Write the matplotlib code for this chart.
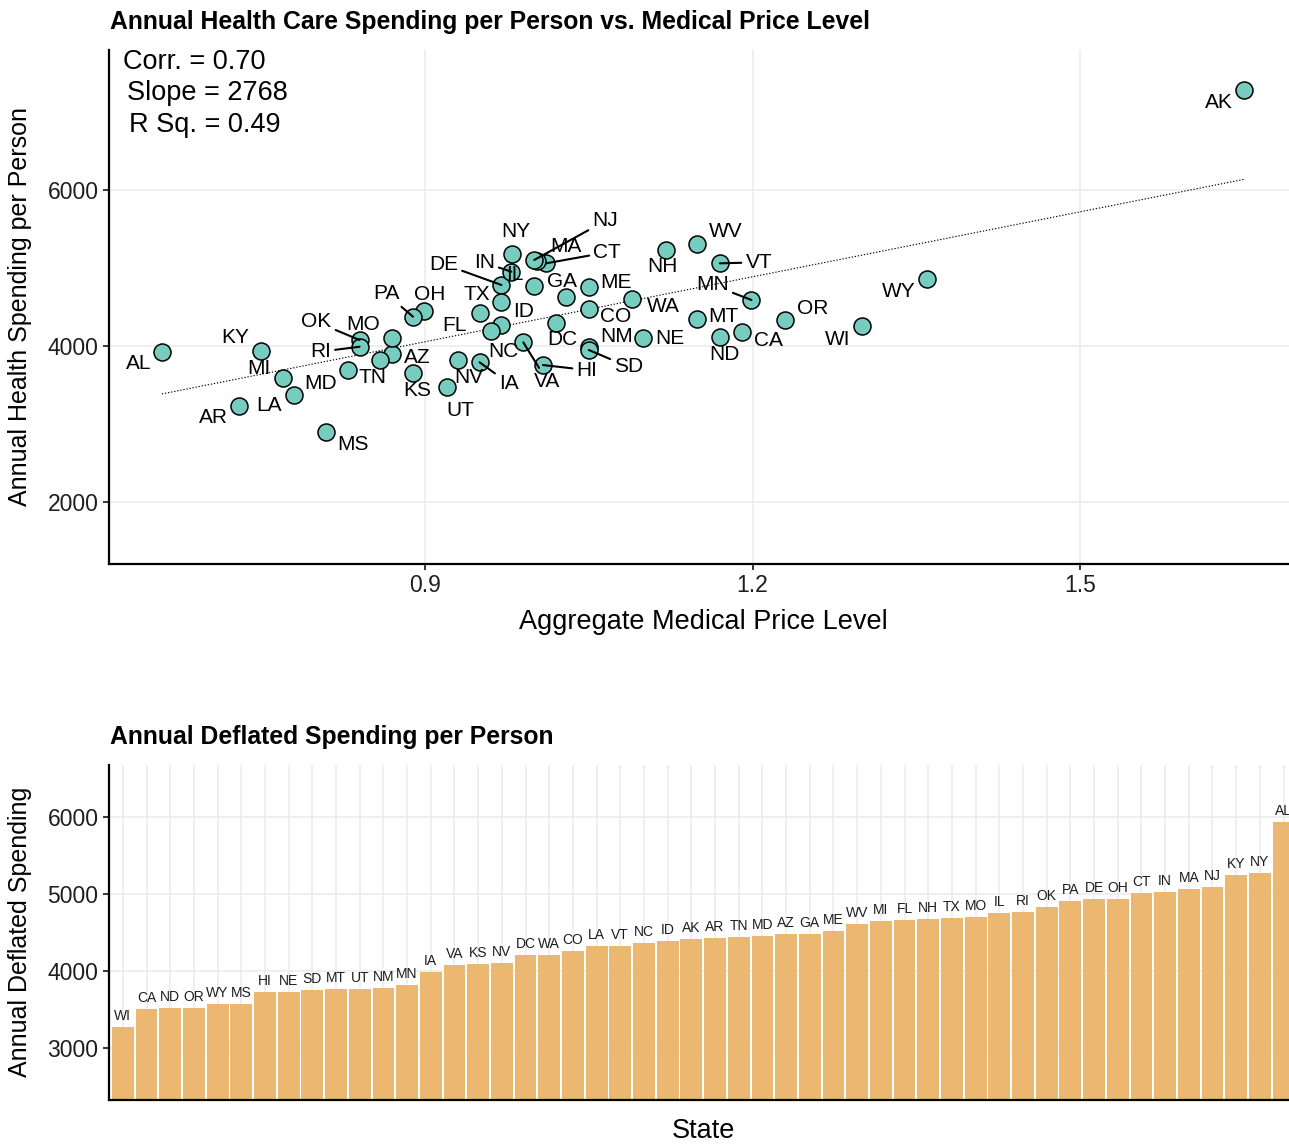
import matplotlib
matplotlib.use('Agg')
import matplotlib.pyplot as plt
import numpy as np

plt.rcParams['font.family'] = ['Liberation Sans', 'DejaVu Sans']

# ---------------- data ----------------
states = ['AL', 'AK', 'AZ', 'AR', 'CA', 'CO', 'CT', 'DE', 'DC', 'FL',
          'GA', 'HI', 'ID', 'IL', 'IN', 'IA', 'KS', 'KY', 'LA', 'ME',
          'MD', 'MA', 'MI', 'MN', 'MS', 'MO', 'MT', 'NE', 'NV', 'NH',
          'NJ', 'NM', 'NY', 'NC', 'ND', 'OH', 'OK', 'OR', 'PA', 'RI',
          'SD', 'TN', 'TX', 'UT', 'VT', 'VA', 'WA', 'WV', 'WI', 'WY']
price_level = [0.659, 1.650, 0.870, 0.730, 1.190, 1.050, 1.011, 0.970, 1.020, 0.950,
               1.029, 1.008, 0.970, 1.000, 0.979, 0.950, 0.889, 0.750, 0.780, 1.050,
               0.829, 1.003, 0.770, 1.199, 0.809, 0.870, 1.149, 1.100, 0.930, 1.121,
               1.000, 1.050, 0.980, 0.960, 1.170, 0.899, 0.840, 1.230, 0.889, 0.840,
               1.050, 0.859, 0.970, 0.920, 1.170, 0.990, 1.090, 1.149, 1.300, 1.360]
spending = [3923, 7282, 3897, 3231, 4175, 4470, 5060, 4782, 4291, 4427,
            4624, 3756, 4269, 4765, 4953, 3791, 3650, 3936, 3372, 4752,
            3692, 5085, 3590, 4590, 2897, 4103, 4342, 4099, 3821, 5231,
            5103, 3991, 5179, 4196, 4120, 4449, 4077, 4333, 4376, 3991,
            3949, 3821, 4568, 3471, 5060, 4047, 4599, 5304, 4256, 4859]

bar_states = ['WI', 'CA', 'ND', 'OR', 'WY', 'MS', 'HI', 'NE', 'SD', 'MT',
              'UT', 'NM', 'MN', 'IA', 'VA', 'KS', 'NV', 'DC', 'WA', 'CO',
              'LA', 'VT', 'NC', 'ID', 'AK', 'AR', 'TN', 'MD', 'AZ', 'GA',
              'ME', 'WV', 'MI', 'FL', 'NH', 'TX', 'MO', 'IL', 'RI', 'OK',
              'PA', 'DE', 'OH', 'CT', 'IN', 'MA', 'NJ', 'KY', 'NY', 'AL']
deflated = [3277, 3510, 3524, 3524, 3571, 3571, 3731, 3731, 3757, 3770,
            3770, 3783, 3822, 3991, 4082, 4095, 4108, 4212, 4212, 4264,
            4329, 4329, 4368, 4394, 4420, 4433, 4446, 4459, 4485, 4485,
            4524, 4615, 4653, 4666, 4679, 4692, 4705, 4757, 4770, 4835,
            4913, 4939, 4939, 5017, 5030, 5069, 5095, 5251, 5277, 5939]

stats_lines = ['Corr. = 0.70', 'Slope = 2768', 'R Sq. = 0.49']

# label offsets (pixels, right / up) and whether a leader segment is drawn
label_offsets = {
    'AL': (-23, -11, 0), 'KY': (-26, 13, 0), 'MI': (-24, 9, 0), 'LA': (-25, -11, 0),
    'AR': (-26, -12, 0), 'MS': (27, -12, 0), 'MD': (-27, -13, 0), 'TN': (-8, -18, 0),
    'AZ': (25, -3, 0), 'MO': (-29, 13, 0), 'OK': (-43, 18, 1), 'RI': (-39, -5, 1),
    'PA': (-27, 23, 1), 'OH': (6, 16, 0), 'KS': (4, -17, 0), 'NV': (11, -18, 0),
    'UT': (13, -23, 0), 'IA': (29, -21, 1), 'FL': (-25, -13, 0), 'NC': (13, -21, 0),
    'ID': (22, 14, 0), 'TX': (-25, 7, 0), 'DE': (-58, 21, 1), 'IN': (-27, 9, 1),
    'IL': (-19, 12, 0), 'NY': (3, 23, 0), 'NJ': (71, 39, 1), 'MA': (28, 15, 0),
    'CT': (61, 11, 1), 'GA': (-4, 16, 0), 'ME': (27, 5, 0), 'CO': (27, -7, 0),
    'DC': (6, -16, 0), 'NM': (28, 10, 0), 'SD': (40, -17, 1), 'HI': (44, -5, 1),
    'VA': (24, -39, 1), 'NE': (26, 0, 0), 'WA': (31, -7, 0), 'NH': (-4, -17, 0),
    'WV': (29, 13, 0), 'VT': (39, 1, 1), 'MN': (-39, 15, 1), 'MT': (27, 3, 0),
    'ND': (5, -18, 0), 'CA': (27, -8, 0), 'OR': (27, 12, 0), 'WI': (-24, -13, 0),
    'WY': (-28, -13, 0), 'AK': (-25, -12, 0),
}

# ---------------- figure ----------------
W, H = 1289, 1145
fig = plt.figure(figsize=(W / 100, H / 100), dpi=100)


def fx(px):
    return px / W


def fy(py):
    return 1 - py / H


point_color = '#77CCC0'
bar_color = '#EBB771'
grid_color = '#EBEBEB'
tick_col = '#1e1e1e'


def style_axes(ax):
    for s in ['top', 'right']:
        ax.spines[s].set_visible(False)
    for s in ['left', 'bottom']:
        ax.spines[s].set_linewidth(1.6)
        ax.spines[s].set_color('black')
    ax.tick_params(direction='out', length=4.5, width=1.1, color='black',
                   labelsize=16.5, labelcolor=tick_col, pad=3)
    ax.set_axisbelow(True)


# ---- scatter ----
ax1 = fig.add_axes([fx(109), fy(564), (W - 109) / W, (564 - 50) / H])
x = np.array(price_level)
y = np.array(spending)
ax1.set_xlim(0.6105, 1.6914)
ax1.set_ylim(1205, 7795)
ax1.set_xticks([0.9, 1.2, 1.5])
ax1.set_xticklabels(['0.9', '1.2', '1.5'])
ax1.set_yticks([2000, 4000, 6000])
ax1.grid(True, color=grid_color, lw=1.1)
style_axes(ax1)

b1, b0 = np.polyfit(x, y, 1)
xx = np.array([x.min(), x.max()])
ax1.plot(xx, b0 + b1 * xx, color='black', lw=0.8, ls=(0, (1.2, 1.6)), zorder=2)

ax1.scatter(x, y, s=150, color=point_color, edgecolor='black', lw=1.1, zorder=3)

for st, xi, yi in zip(states, x, y):
    dx, dy, seg = label_offsets[st]
    kw = {}
    if seg:
        kw['arrowprops'] = dict(arrowstyle='-', lw=1.5, color='black',
                                shrinkA=1, shrinkB=0)
    ax1.annotate(st, (xi, yi), xytext=(dx, dy), textcoords='offset pixels',
                 ha='center', va='center', fontsize=15, color='black',
                 zorder=4, **kw)

for txt, lx, ly in zip(stats_lines, [123, 127, 129], [62, 93, 125]):
    fig.text(fx(lx), fy(ly), txt, ha='left', va='center', fontsize=19.5, color='black')

fig.text(fx(110), fy(22), 'Annual Health Care Spending per Person vs. Medical Price Level',
         ha='left', va='center', fontsize=17.8, fontweight='bold')
fig.text(fx(703), fy(622), 'Aggregate Medical Price Level', ha='center', va='center',
         fontsize=19.5)
fig.text(fx(20), fy(306), 'Annual Health Spending per Person', ha='center', va='center',
         rotation=90, fontsize=18)

# ---- bars ----
ax2 = fig.add_axes([fx(109), fy(1100), (W - 109) / W, (1100 - 765) / H])
pos = np.arange(len(bar_states))
ax2.bar(pos, deflated, width=0.92, color=bar_color, zorder=2)
ax2.set_xlim(-0.585, 49.23)
ax2.set_ylim(2325, 6675)
ax2.set_xticks(pos)
ax2.set_xticklabels([])
ax2.set_yticks([3000, 4000, 5000, 6000])
ax2.grid(True, color=grid_color, lw=1.1)
style_axes(ax2)
ax2.tick_params(axis='x', length=0)
for p, v, st in zip(pos, deflated, bar_states):
    ax2.annotate(st, (p, v), xytext=(0, 4), textcoords='offset pixels',
                 ha='center', va='bottom', fontsize=10, color=tick_col,
                 annotation_clip=False, clip_on=True)

fig.text(fx(110), fy(737), 'Annual Deflated Spending per Person',
         ha='left', va='center', fontsize=17.8, fontweight='bold')
fig.text(fx(703), fy(1131), 'State', ha='center', va='center', fontsize=19.5)
fig.text(fx(20), fy(932), 'Annual Deflated Spending', ha='center', va='center',
         rotation=90, fontsize=18)

fig.savefig('out.png', dpi=100)
